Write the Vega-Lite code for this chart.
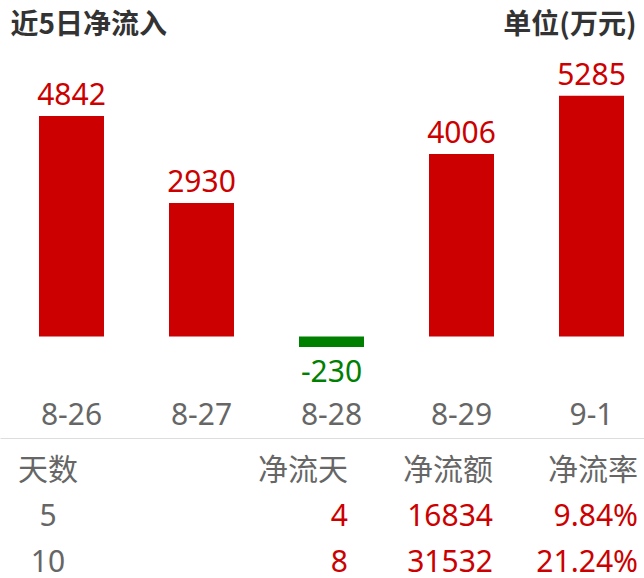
{
  "$schema": "https://vega.github.io/schema/vega-lite/v6.json",
  "width": 644,
  "height": 578,
  "autosize": {"type": "none"},
  "padding": 0,
  "background": "white",
  "config": {"view": {"stroke": null}, "font": "Noto Sans, Noto Sans CJK SC"},
  "datasets": {
    "flows": [
      {"date": "8-26", "value": 4842},
      {"date": "8-27", "value": 2930},
      {"date": "8-28", "value": -230},
      {"date": "8-29", "value": 4006},
      {"date": "9-1", "value": 5285}
    ],
    "summary": [
      {"row": "head", "col": "天数", "text": "天数", "kind": "label"},
      {"row": "head", "col": "净流天", "text": "净流天", "kind": "label"},
      {"row": "head", "col": "净流额", "text": "净流额", "kind": "label"},
      {"row": "head", "col": "净流率", "text": "净流率", "kind": "label"},
      {"row": "5", "col": "天数", "text": "5", "kind": "label"},
      {"row": "5", "col": "净流天", "text": "4", "kind": "value"},
      {"row": "5", "col": "净流额", "text": "16834", "kind": "value"},
      {"row": "5", "col": "净流率", "text": "9.84%", "kind": "value"},
      {"row": "10", "col": "天数", "text": "10", "kind": "label"},
      {"row": "10", "col": "净流天", "text": "8", "kind": "value"},
      {"row": "10", "col": "净流额", "text": "31532", "kind": "value"},
      {"row": "10", "col": "净流率", "text": "21.24%", "kind": "value"}
    ]
  },
  "layer": [
    {
      "data": {"name": "flows"},
      "encoding": {
        "x": {
          "field": "date",
          "type": "nominal",
          "sort": null,
          "scale": {"paddingInner": 0.5, "paddingOuter": 0.22692, "align": 0.66102},
          "axis": {
            "orient": "top",
            "offset": -438,
            "title": null,
            "grid": false,
            "ticks": false,
            "tickSize": 0,
            "domainColor": "#dddddd",
            "domainWidth": 1,
            "labelAngle": 0,
            "labelPadding": 14,
            "labelBaseline": "alphabetic",
            "labelFontSize": 30,
            "labelColor": "#666666"
          }
        },
        "y": {
          "field": "value",
          "type": "quantitative",
          "scale": {"domain": [-5302, 7387], "nice": false, "zero": false}
        }
      },
      "layer": [
        {
          "mark": {"type": "bar"},
          "encoding": {
            "y": {
              "field": "value",
              "type": "quantitative",
              "axis": {
                "orient": "left",
                "title": "近5日净流入",
                "labels": false,
                "ticks": false,
                "domain": false,
                "grid": false,
                "titleAngle": 0,
                "titleAlign": "left",
                "titleBaseline": "alphabetic",
                "titleX": 10,
                "titleY": 33,
                "titleFont": "Noto Sans CJK SC",
                "titleFontSize": 28,
                "titleFontWeight": "bold",
                "titleColor": "#333333"
              }
            },
            "y2": {"datum": 0},
            "color": {
              "condition": {"test": "datum.value < 0", "value": "#008000"},
              "value": "#cc0000"
            }
          }
        },
        {
          "transform": [{"filter": "datum.value >= 0"}],
          "mark": {"type": "text", "baseline": "alphabetic", "dy": -11, "fontSize": 30, "color": "#cc0000"},
          "encoding": {
            "y": {
              "field": "value",
              "type": "quantitative",
              "axis": {
                "orient": "right",
                "title": "单位(万元)",
                "labels": false,
                "ticks": false,
                "domain": false,
                "grid": false,
                "titleAngle": 0,
                "titleAlign": "right",
                "titleBaseline": "alphabetic",
                "titleX": -8,
                "titleY": 33,
                "titleFont": "Noto Sans CJK SC",
                "titleFontSize": 28,
                "titleFontWeight": "bold",
                "titleColor": "#333333"
              }
            },
            "text": {"field": "value", "type": "nominal"}
          }
        },
        {
          "transform": [{"filter": "datum.value < 0"}],
          "mark": {"type": "text", "baseline": "alphabetic", "dy": 35, "fontSize": 30, "color": "#008000"},
          "encoding": {
            "y": {"field": "value", "type": "quantitative", "axis": null},
            "text": {"field": "value", "type": "nominal"}
          }
        }
      ],
      "resolve": {"axis": {"y": "independent"}}
    },
    {
      "data": {"name": "summary"},
      "encoding": {
        "x": {
          "field": "col",
          "type": "nominal",
          "scale": {"type": "point", "domain": ["天数", "净流天", "净流额", "净流率"], "padding": 0.72069, "align": 0.97129},
          "axis": null
        },
        "y": {
          "field": "row",
          "type": "nominal",
          "scale": {"type": "point", "domain": ["head", "5", "10"], "range": [480, 572], "padding": 0},
          "axis": null
        },
        "text": {"field": "text", "type": "nominal"},
        "color": {
          "field": "kind",
          "type": "nominal",
          "scale": {"domain": ["label", "value"], "range": ["#666666", "#cc0000"]},
          "legend": null
        }
      },
      "layer": [
        {
          "transform": [{"filter": "datum.col === '天数'"}],
          "mark": {"type": "text", "align": "center", "baseline": "alphabetic", "dx": -155, "fontSize": 30}
        },
        {
          "transform": [{"filter": "datum.col !== '天数'"}],
          "mark": {"type": "text", "align": "right", "baseline": "alphabetic", "fontSize": 30}
        }
      ]
    }
  ],
  "resolve": {"scale": {"x": "independent", "y": "independent", "color": "independent"}}
}
